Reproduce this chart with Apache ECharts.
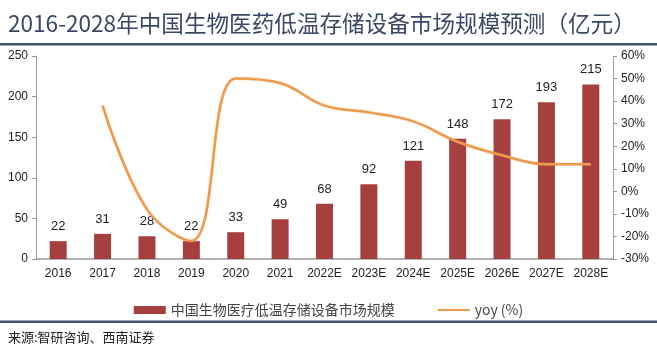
<!DOCTYPE html>
<html>
<head>
<meta charset="utf-8">
<script src="https://cdn.jsdelivr.net/npm/echarts@6/dist/echarts.min.js"></script>
<style>
  html, body { margin: 0; padding: 0; background: #fff; }
  #chart { width: 657px; height: 351px; }
</style>
</head>
<body>
<div id="chart"></div>
<script>
// 数据
const years = ['2016', '2017', '2018', '2019', '2020', '2021', '2022E', '2023E', '2024E', '2025E', '2026E', '2027E', '2028E'];
const marketSize = [22, 31, 28, 22, 33, 49, 68, 92, 121, 148, 172, 193, 215];
const yoy = [null, 38, -8, -22, 50, 48, 38, 35, 31, 22, 16, 12, 12];

const barName = '中国生物医疗低温存储设备市场规模';
const lineName = 'yoy (%)';

const chart = echarts.init(document.getElementById('chart'));

const option = {
  animation: false,
  title: {
    text: '2016-2028年中国生物医药低温存储设备市场规模预测（亿元）',
    left: 3,
    top: 7,
    textStyle: {
      fontFamily: 'Noto Sans CJK SC',
      fontSize: 22.6,
      fontWeight: 'normal',
      color: '#3a4766'
    }
  },
  graphic: [
    {
      type: 'rect',
      shape: { x: 0, y: 43, width: 657, height: 2.5 },
      style: { fill: '#45516b' }
    },
    {
      type: 'rect',
      shape: { x: 0, y: 320.5, width: 657, height: 2.5 },
      style: { fill: '#45516b' }
    },
    {
      type: 'text',
      left: 8,
      top: 331,
      style: {
        text: '来源:智研咨询、西南证券',
        font: '13px "Noto Sans CJK SC"',
        fill: '#222'
      }
    }
  ],
  legend: {
    top: 298,
    left: 'center',
    itemGap: 42,
    itemWidth: 32,
    itemHeight: 8,
    textStyle: {
      fontFamily: 'Noto Sans CJK SC',
      fontSize: 14,
      color: '#444'
    },
    data: [
      { name: barName, icon: 'rect' },
      { name: lineName, itemStyle: { opacity: 0 } }
    ]
  },
  grid: {
    left: 36,
    right: 44,
    top: 56,
    bottom: 92
  },
  xAxis: {
    type: 'category',
    data: years,
    axisLine: { lineStyle: { color: '#9a9a9a', width: 1.5 } },
    axisTick: { show: false },
    axisLabel: {
      fontFamily: 'Liberation Sans',
      fontSize: 12,
      color: '#222',
      margin: 9,
      interval: 0
    }
  },
  yAxis: [
    {
      type: 'value',
      min: 0,
      max: 250,
      interval: 50,
      splitLine: { show: false },
      axisLine: { show: true, lineStyle: { color: '#9a9a9a' } },
      axisTick: { show: true, length: 4, lineStyle: { color: '#9a9a9a' } },
      axisLabel: {
        fontFamily: 'Liberation Sans',
        fontSize: 12,
        color: '#222',
        margin: 8
      }
    },
    {
      type: 'value',
      min: -30,
      max: 60,
      interval: 10,
      splitLine: { show: false },
      axisLine: { show: true, lineStyle: { color: '#9a9a9a' } },
      axisTick: { show: true, length: 4, lineStyle: { color: '#9a9a9a' } },
      axisLabel: {
        fontFamily: 'Liberation Sans',
        fontSize: 12,
        color: '#222',
        margin: 8,
        formatter: '{value}%'
      }
    }
  ],
  series: [
    {
      name: barName,
      type: 'bar',
      data: marketSize,
      barWidth: 17,
      itemStyle: { color: '#a5403f' },
      label: {
        show: true,
        position: 'top',
        distance: 8,
        fontFamily: 'Liberation Sans',
        fontSize: 13,
        color: '#222'
      }
    },
    {
      name: lineName,
      type: 'line',
      yAxisIndex: 1,
      data: yoy,
      smooth: 0.4,
      symbol: 'none',
      connectNulls: false,
      lineStyle: {
        color: '#ee9a4d',
        width: 2.5,
        shadowColor: 'rgba(238,154,77,0.35)',
        shadowBlur: 2
      },
      itemStyle: { color: '#ee9a4d' }
    }
  ]
};

chart.setOption(option);
</script>
</body>
</html>
